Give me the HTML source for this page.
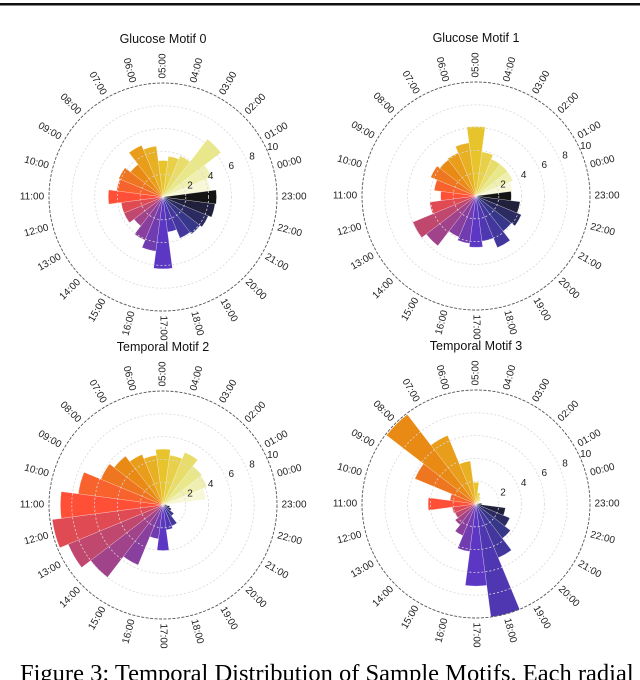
<!DOCTYPE html>
<html><head><meta charset="utf-8"><style>
html,body{margin:0;padding:0;background:#fff;width:640px;height:680px;overflow:hidden;position:relative}
svg{position:absolute;left:0;top:0}
.cap{position:absolute;left:20px;top:662px;font-family:"Liberation Serif",serif;font-size:24.5px;white-space:nowrap;color:#000;line-height:1}
</style></head><body>
<svg id="svg" width="640" height="680" xmlns="http://www.w3.org/2000/svg">
<rect x="0" y="3" width="640" height="2.5" fill="#111"/>
</svg>
<div class="cap">Figure 3: Temporal Distribution of Sample Motifs. Each radial</div>
<script>
const hours = ["00:00","01:00","02:00","03:00","04:00","05:00","06:00","07:00","08:00","09:00","10:00","11:00","12:00","13:00","14:00","15:00","16:00","17:00","18:00","19:00","20:00","21:00","22:00","23:00"];
const titles = ["Glucose Motif 0","Glucose Motif 1","Temporal Motif 2","Temporal Motif 3"];
const motif0 = [4.2,4.6,6.4,3.9,3.6,3.2,4.5,4.9,3.6,4.2,4.1,4.8,3.7,3.7,3.2,4.1,4.8,6.3,3.1,3.9,4.1,4.3,4.6,4.7];
const motif1 = [3.2,3.5,3.5,3.5,3.9,6.1,4.7,4.1,4.0,4.3,3.7,3.1,4.1,6.0,5.5,3.9,4.2,4.5,4.0,4.9,3.9,4.3,3.9,3.1];
const motif2 = [3.8,4.2,4.3,5.0,4.4,4.9,4.4,4.8,5.4,5.9,7.5,9.0,9.8,9.0,8.0,5.7,3.0,4.0,2.2,2.0,1.2,0.8,0.6,0.3];
const motif3 = [0.3,0.3,0.5,0.7,1.0,1.9,3.8,6.5,9.9,5.8,2.3,4.2,2.1,2.0,2.3,3.0,4.2,7.2,10.0,5.1,3.8,3.2,2.6,0.5];
const ringTicks = [2,4,6,8,10];
const rMax = 10;

const NS="http://www.w3.org/2000/svg";
const svg=document.getElementById('svg');
const centers=[[163,197],[476,196],[163,505],[476,504]];
const R=114;
const cm={r:[0,0.15,0.30,0.60,1.00,0.90,0.90,0.90,1.00],g:[0,0.15,0.15,0.20,0.25,0.50,0.75,0.90,1.00],b:[0,0.50,0.75,0.50,0.15,0.00,0.10,0.50,1.00]};
function cmr(t){const x=t*8;const i=Math.min(7,Math.floor(x));const f=x-i;
 const c=k=>Math.round(255*(cm[k][i]+(cm[k][i+1]-cm[k][i])*f));return `rgb(${c('r')},${c('g')},${c('b')})`;}
function angleOf(h){return 90+(h-5)*15;}
function rScale(v){return v/rMax*R;}
function pt(cx,cy,r,a){const t=a*Math.PI/180;return [cx+r*Math.cos(t),cy-r*Math.sin(t)];}
function mk(tag,attrs,parent){const e=document.createElementNS(NS,tag);for(const k in attrs)e.setAttribute(k,attrs[k]);(parent||svg).appendChild(e);return e;}

const series=[motif0,motif1,motif2,motif3];
series.forEach((vals,ci)=>{
 const [cx,cy]=centers[ci];
 const g=mk('g',{});
 
 
 const t=mk('text',{x:cx,y:cy-154,'text-anchor':'middle','font-family':'Liberation Sans, sans-serif','font-size':'12.5',fill:'#111'},g);
 t.textContent=titles[ci];
 
 
 vals.forEach((v,h)=>{
  const a=angleOf(h), r=rScale(v);
  const p1=pt(cx,cy,r,a-7.5),p2=pt(cx,cy,r,a+7.5);
  const k=((23-h+24)%24)/24;
  const p=mk('path',{d:`M${cx},${cy}L${p1[0].toFixed(2)},${p1[1].toFixed(2)}A${r},${r} 0 0 0 ${p2[0].toFixed(2)},${p2[1].toFixed(2)}Z`,fill:cmr(k),'fill-opacity':0.92,stroke:'#fff','stroke-width':0.4,'stroke-opacity':0.6},g);
  
  
 });
 ringTicks.forEach(v=>{
  const outer=v===rMax;
  const c=mk('circle',{cx:cx,cy:cy,r:rScale(v),fill:'none',stroke:outer?'#555':'#d8d8d8','stroke-width':outer?0.9:0.8,'stroke-dasharray':outer?'3,1.5':'2,2'},g);
  
  
  const lp=pt(cx,cy,rScale(v)+7,25);
  const lt=mk('text',{x:lp[0],y:lp[1]+4,'text-anchor':'middle','font-family':'Liberation Sans, sans-serif','font-size':'10',fill:'#222'},g);
  lt.textContent=v;
  
  
 });
 hours.forEach((lab,h)=>{
  const a=angleOf(h)%360;
  const lp=pt(cx,cy,131,a);
  let rot=(a>90&&a<270)?-(a-180):-a;
  if(a>270)rot=-(a-360);
  const lt=mk('text',{x:lp[0],y:lp[1],'text-anchor':'middle','dominant-baseline':'central','font-family':'Liberation Sans, sans-serif','font-size':'10',fill:'#222',transform:`rotate(${rot} ${lp[0].toFixed(2)} ${lp[1].toFixed(2)})`},g);
  lt.textContent=lab;
  
  
 });
});
</script>
</body></html>
